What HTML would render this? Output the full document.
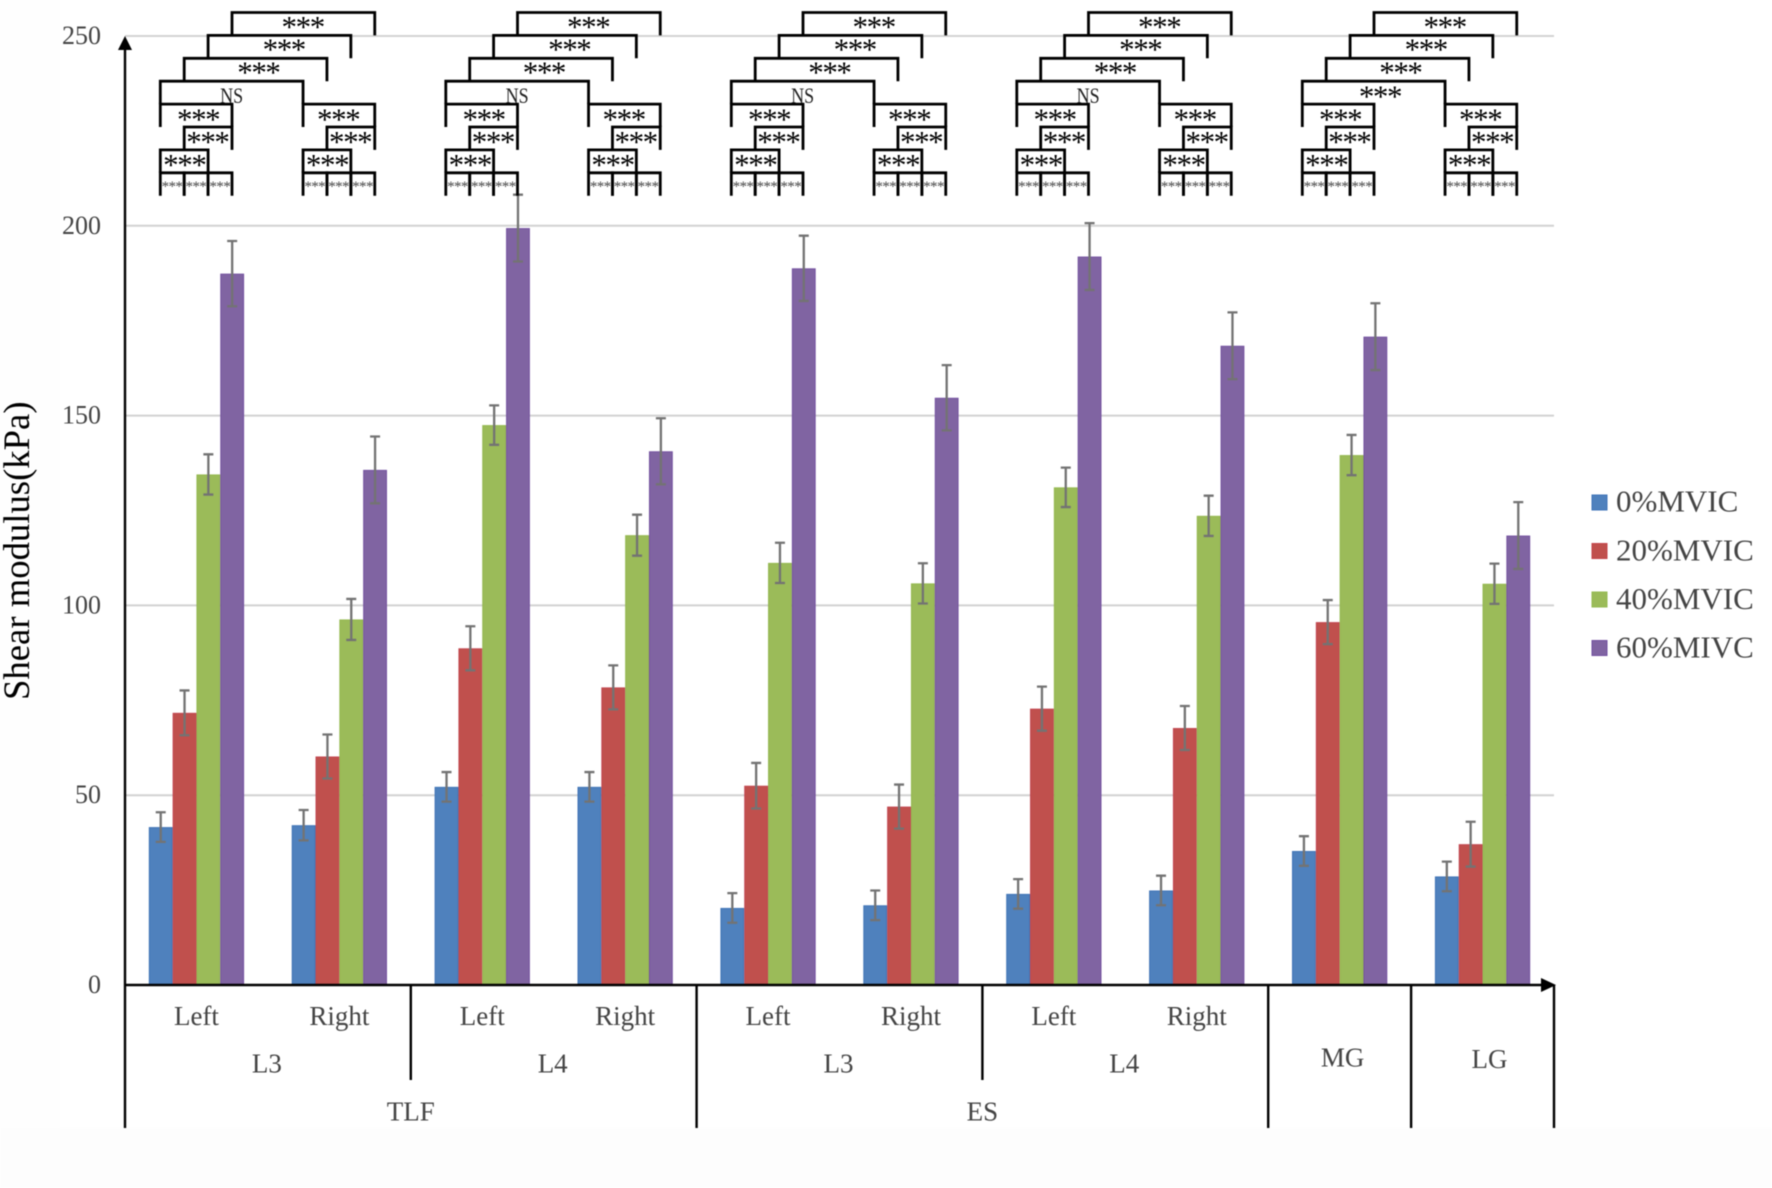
<!DOCTYPE html>
<html lang="en">
<head>
<meta charset="utf-8">
<title>Shear modulus by muscle site and contraction level</title>
<style>
html,body{margin:0;padding:0;background:#fefefe;}
svg{display:block;font-family:"Liberation Serif",serif;filter:blur(0.4px);}
</style>
</head>
<body>
<svg id="chart" xmlns="http://www.w3.org/2000/svg" width="1772" height="1188" viewBox="0 0 1772 1188">
  <rect x="0" y="0" width="1772" height="1188" fill="#fefefe"/>
  <rect x="60" y="0" width="1712" height="1128" fill="#ffffff"/>
  <rect x="0" y="1128" width="1772" height="60" fill="#fdfdfd"/>
  <g id="grid"></g>
  <g id="bars"></g>
  <g id="errors"></g>
  <g id="axes"></g>
  <g id="labels"></g>
  <g id="brackets"></g>
  <text transform="translate(29,700) rotate(-90)" font-size="36.7" fill="#000000">Shear modulus(kPa)</text>
  <g font-size="31" fill="#444444">
    <g><rect x="1592" y="495" width="15" height="15" fill="#4f81bd" stroke="#3f74b8"/><text x="1616" y="511.5">0%MVIC</text></g>
    <g><rect x="1592" y="543.5" width="15" height="15" fill="#c0504d" stroke="#c4434a"/><text x="1616" y="560.5">20%MVIC</text></g>
    <g><rect x="1592" y="592" width="15" height="15" fill="#9bbb59" stroke="#94ba50"/><text x="1616" y="609">40%MVIC</text></g>
    <g><rect x="1592" y="640.5" width="15" height="15" fill="#8064a2" stroke="#7250a0"/><text x="1616" y="657.5">60%MIVC</text></g>
  </g>
</svg>
<script>
const categories = ['TLF L3 Left','TLF L3 Right','TLF L4 Left','TLF L4 Right','ES L3 Left','ES L3 Right','ES L4 Left','ES L4 Right','MG','LG'];
const sideLabels = ['Left','Right','Left','Right','Left','Right','Left','Right'];
const levelLabels = ['L3','L4','L3','L4'];
const muscleLabels = ['TLF','ES'];
const singleLabels = ['MG','LG'];
const tickValues = [0,50,100,150,200,250];
const seriesNames = ['0%MVIC','20%MVIC','40%MVIC','60%MIVC'];
const values0 = [41.6,42.1,52.2,52.2,20.3,21.0,24.0,24.9,35.3,28.6];
const values20 = [71.7,60.2,88.7,78.4,52.5,47.0,72.8,67.7,95.6,37.1];
const values40 = [134.5,96.3,147.5,118.5,111.2,105.8,131.1,123.6,139.6,105.7];
const values60 = [187.4,135.7,199.4,140.6,188.8,154.7,191.9,168.4,170.8,118.4];
const errors0 = [3.9,4.0,3.9,3.9,3.9,3.9,3.9,3.9,3.9,3.9];
const errors20 = [5.9,5.8,5.8,5.8,6.0,5.8,5.8,5.8,5.8,5.9];
const errors40 = [5.3,5.4,5.2,5.4,5.3,5.3,5.2,5.3,5.3,5.3];
const errors60 = [8.6,8.8,8.8,8.7,8.6,8.6,8.8,8.8,8.8,8.8];
const pairMainLabels = ['NS','NS','NS','NS','***'];

const seriesValues = [values0,values20,values40,values60];
const seriesErrors = [errors0,errors20,errors40,errors60];
const seriesFill = ['#4f81bd','#c0504d','#9bbb59','#8064a2'];
const seriesEdge = ['#4074b6','#c24650','#94b84f','#7452a0'];

const NS = 'http://www.w3.org/2000/svg';
const plotLeft = 125, plotRight = 1554, plotBottom = 985, pxPerUnit = 3.796;
const bandWidth = (plotRight - plotLeft) / categories.length;
const barWidth = bandWidth / 6;

function yScale(v){ return plotBottom - v * pxPerUnit; }
function bandStart(g){ return plotLeft + g * bandWidth; }
function barLeft(g,s){ return bandStart(g) + bandWidth / 2 - 2 * barWidth + s * barWidth; }
function bracketX(g,s){ return 160.3 + 142.75 * g + 23.9 * s; }
function rowY(r){ return 12.5 + r * 22.9; }

function make(parent, tag, attrs, content){
  const el = document.createElementNS(NS, tag);
  for (const k in attrs) el.setAttribute(k, attrs[k]);
  if (content !== undefined) el.textContent = content;
  parent.appendChild(el);
  return el;
}

const gridLayer = document.getElementById('grid');
const barLayer = document.getElementById('bars');
const errLayer = document.getElementById('errors');
const axisLayer = document.getElementById('axes');
const labelLayer = document.getElementById('labels');
const bracketLayer = document.getElementById('brackets');

tickValues.forEach(function(t){
  if (t > 0) {
    const line = make(gridLayer,'line',{x1:plotLeft,x2:plotRight,y1:yScale(t),y2:yScale(t),stroke:'#d2d2d2','stroke-width':2});
    
    
  }
  const tick = make(axisLayer,'text',{x:101,y:yScale(t)+8,'font-size':26,fill:'#444444','text-anchor':'end'},String(t));
  
  
});

categories.forEach(function(cat,g){
  seriesValues.forEach(function(vals,s){
    const top = yScale(vals[g]);
    const x = barLeft(g,s);
    const bar = make(barLayer,'rect',{x:x+0.5,y:top+0.5,width:barWidth-1,height:plotBottom-top-0.5,fill:seriesFill[s],stroke:seriesEdge[s],'stroke-width':1});
    
    
    const cx = x + barWidth / 2;
    const e = seriesErrors[s][g];
    const hi = yScale(vals[g] + e), lo = yScale(vals[g] - e);
    const err = make(errLayer,'path',{d:'M'+(cx-5)+' '+hi+'H'+(cx+5)+'M'+cx+' '+hi+'V'+lo+'M'+(cx-5)+' '+lo+'H'+(cx+5),fill:'none',stroke:'#737373','stroke-width':2.3});
    
    
  });
});

const yAxisLine = make(axisLayer,'line',{x1:plotLeft,x2:plotLeft,y1:44,y2:1128,stroke:'#000','stroke-width':2.4});


const yArrow = make(axisLayer,'polygon',{points:'125,36 118,50 132,50',fill:'#000'});


const xAxisLine = make(axisLayer,'line',{x1:plotLeft,x2:1545,y1:plotBottom,y2:plotBottom,stroke:'#000','stroke-width':2.6});


const xArrow = make(axisLayer,'polygon',{points:'1556,985 1541,978 1541,992',fill:'#000'});



[[2,1080],[4,1128],[6,1080],[8,1128],[9,1128],[10,1128]].forEach(function(d){
  const x = bandStart(d[0]);
  const div = make(axisLayer,'line',{x1:x,x2:x,y1:plotBottom,y2:d[1],stroke:'#000','stroke-width':2.4});
  
  
});

sideLabels.forEach(function(t,i){
  const el = make(labelLayer,'text',{x:bandStart(i)+bandWidth/2,y:1025,'font-size':27,fill:'#444444','text-anchor':'middle'},t);
  
  
});
levelLabels.forEach(function(t,i){
  const el = make(labelLayer,'text',{x:bandStart(i*2+1)-1,y:1072.5,'font-size':27,fill:'#444444','text-anchor':'middle'},t);
  
  
});
muscleLabels.forEach(function(t,i){
  const el = make(labelLayer,'text',{x:bandStart(i*4+2),y:1120.5,'font-size':27,fill:'#444444','text-anchor':'middle'},t);
  
  
});
singleLabels.forEach(function(t,i){
  const el = make(labelLayer,'text',{x:bandStart(8+i)+bandWidth/2+(i?7:3),y:i?1068:1066.5,'font-size':27,fill:'#444444','text-anchor':'middle'},t);
  
  
});

function bracket(g1,s1,g2,s2,row,name){
  const x1 = bracketX(g1,s1), x2 = bracketX(g2,s2), top = rowY(row), bot = rowY(row+1);
  const p = make(bracketLayer,'path',{d:'M'+x1+' '+bot+'V'+top+'H'+x2+'V'+bot,fill:'none',stroke:'#000','stroke-width':2.8});
  
  
  return (x1+x2)/2;
}
function stars(x,row,name){
  const t = make(bracketLayer,'text',{x:x-0.7,y:rowY(row)+(row<3?24.3:25.2),'font-size':31,'letter-spacing':-1.4,fill:'#000','text-anchor':'middle'},'***');
  
  
}
function smallStars(x,row,name){
  const t = make(bracketLayer,'text',{x:x-0.3,y:rowY(row)+18,'font-size':15,'letter-spacing':-0.6,fill:'#444','text-anchor':'middle'},'***');
  
  
}

pairMainLabels.forEach(function(label,p){
  const a = p*2, b = p*2+1;
  stars(bracket(a,3,b,3,0,'bracket-top-'+p), 0, 'stars-top-'+p);
  stars(bracket(a,2,b,2,1,'bracket-second-'+p)+5, 1, 'stars-second-'+p);
  stars(bracket(a,1,b,1,2,'bracket-third-'+p)+3.5, 2, 'stars-third-'+p);
  const mid = bracket(a,0,b,0,3,'bracket-main-'+p);
  if (label === 'NS') {
    const t = make(bracketLayer,'text',{x:mid-11.5,y:rowY(3)+21.8,'font-size':22,fill:'#222',textLength:23,lengthAdjust:'spacingAndGlyphs'},label);
    
    
  } else {
    stars(mid+7, 3, 'stars-main-'+p);
  }
  [a,b].forEach(function(g,k){
    const side = k ? 'right-' : 'left-';
    stars(bracket(g,0,g,3,4,'bracket-row4-'+side+p)+(k?0:2.7), 4, 'stars-row4-'+side+p);
    stars(bracket(g,1,g,3,5,'bracket-row5-'+side+p), 5, 'stars-row5-'+side+p);
    stars(bracket(g,0,g,2,6,'bracket-row6-'+side+p)+0.8, 6, 'stars-row6-'+side+p);
    [0,1,2].forEach(function(s){
      smallStars(bracket(g,s,g,s+1,7,'bracket-small-'+side+p+'-'+s), 7, 'stars-small-'+side+p+'-'+s);
    });
  });
});
</script>
</body>
</html>
